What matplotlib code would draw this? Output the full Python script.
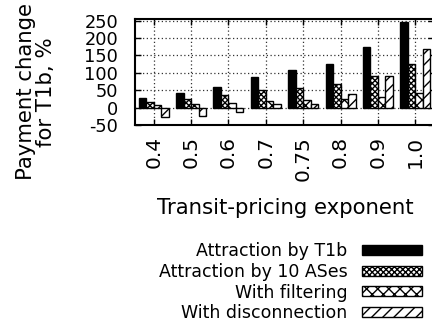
import numpy as np
import matplotlib
matplotlib.use("Agg")
import matplotlib.pyplot as plt

plt.rcParams['font.family'] = ['DejaVu Sans']
plt.rcParams['axes.unicode_minus'] = False
plt.rcParams['hatch.linewidth'] = 1.0

exponents = ["0.4", "0.5", "0.6", "0.7", "0.75", "0.8", "0.9", "1.0"]
t1b = [27, 41, 60, 87, 107, 125, 175, 247]
ases10 = [17, 24, 35, 50, 57, 67, 92, 126]
filtering = [7, 9, 12, 18, 21, 26, 31, 43]
disconnection = [-26, -24, -12, 9, 9, 40, 90, 169]

series = [
    ("Attraction by T1b", t1b, "black", None),
    ("Attraction by 10 ASes", ases10, "white", "xxxxxx"),
    ("With filtering", filtering, "white", "xxx"),
    ("With disconnection", disconnection, "white", "///"),
]

fig = plt.figure(figsize=(4.32, 3.30), dpi=100)
ax = fig.add_axes([135 / 432, 1 - 125 / 330, 299 / 432, 106 / 330])

x = np.arange(len(exponents))
w = 0.2
handles = []
for i, (name, vals, fc, hatch) in enumerate(series):
    b = ax.bar(x - 0.3 + i * w, vals, w, color=fc, edgecolor="black",
               linewidth=1.0, hatch=hatch, label=name, zorder=3)
    handles.append(b)

ax.set_xlim(-0.5, 7.5)
ax.set_ylim(-50, 255)
ax.set_yticks([-50, 0, 50, 100, 150, 200, 250])
ax.set_yticklabels(["-50", "0", "50", "100", "150", "200", "250"], fontsize=12.8)
ax.set_xticks(x)
ax.set_xticklabels(exponents, rotation=90, fontsize=14.5)

ax.tick_params(axis="both", direction="in", top=True, right=True,
               length=4, width=1.0)
ax.tick_params(axis="y", pad=12)
ax.tick_params(axis="x", pad=8)

ax.grid(True, linestyle=(0, (1, 2)), color="#333333", linewidth=0.9, zorder=0)
for s in ax.spines.values():
    s.set_linewidth(1.5)

ax.set_xlabel("Transit-pricing exponent", fontsize=15.3, va="center")
ax.xaxis.set_label_coords((285 - 135) / 299, (125 - 208) / 106)

fig.text(36 / 432, 1 - 92 / 330, "Payment change\nfor T1b, %", rotation=90,
         ha="center", va="center", fontsize=15.3, linespacing=0.95,
         multialignment="center")

fig.legend(handles=handles, loc="upper right",
           bbox_to_anchor=(422 / 432, 1 - 242 / 330),
           bbox_transform=fig.transFigure, frameon=False, markerfirst=False,
           fontsize=12.5, handlelength=3.45, handleheight=0.5,
           handletextpad=0.85, labelspacing=0.16, borderpad=0, borderaxespad=0)

fig.savefig("out.png", dpi=100)
